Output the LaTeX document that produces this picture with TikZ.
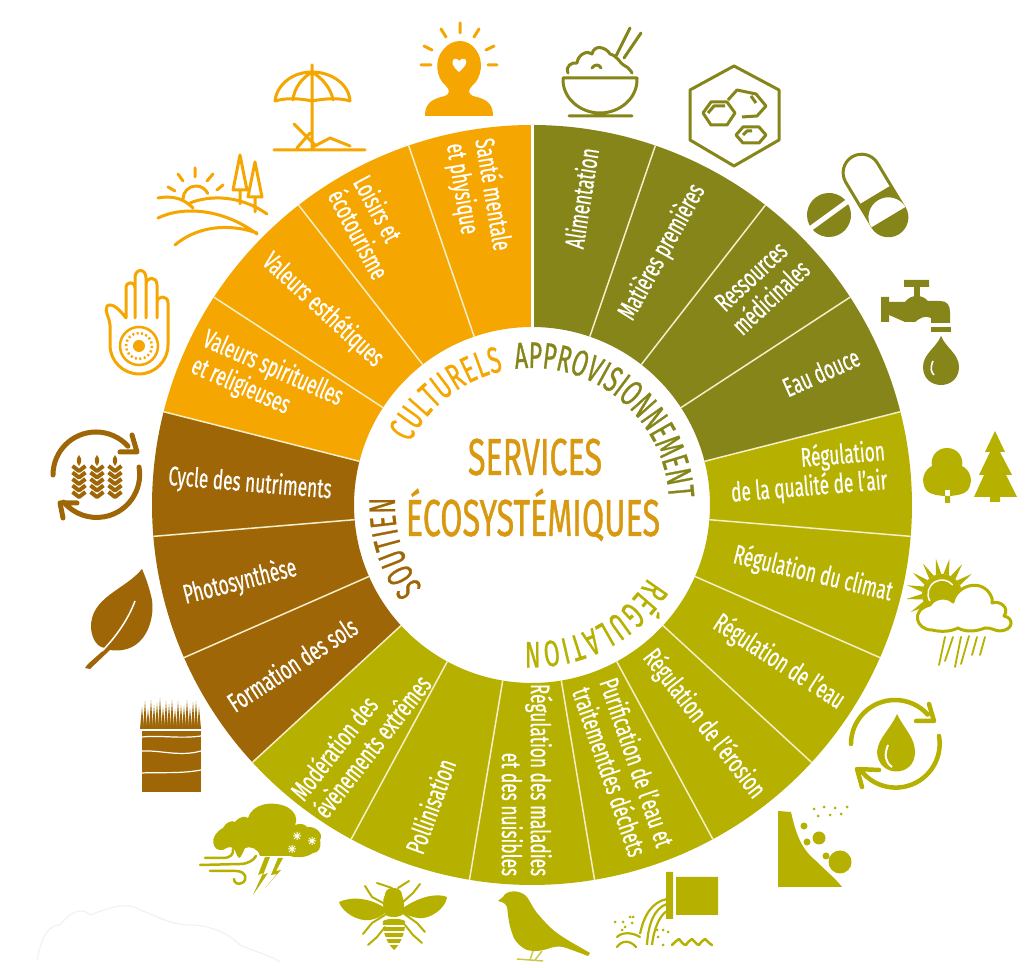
\documentclass[tikz,border=0pt]{standalone}
\usepackage{fontspec}
\usetikzlibrary{decorations.text}
\newfontfamily\lab[FakeStretch=0.64,FakeBold=0.6]{Fira Sans}
\newfontfamily\ttl[FakeStretch=0.62,FakeBold=0.7]{Fira Sans}
\definecolor{cOr}{HTML}{F6A600}
\definecolor{cOl}{HTML}{85851A}
\definecolor{cYe}{HTML}{B6B100}
\definecolor{cBr}{HTML}{9E6606}
\definecolor{cTi}{HTML}{D8980F}
\definecolor{cDiv}{HTML}{F4EFC8}
\tikzset{
  seclabel/.style={text=white,inner sep=0pt,font=\lab\fontsize{27}{29}\selectfont},
  ic/.style={line width=3pt,line cap=round,line join=round},
  ringt/.style={decoration={text along path,text align={fit to path},text={#1}},postaction={decorate}}
}
\begin{document}
\begin{tikzpicture}[x=1pt,y=1pt]
\useasboundingbox (0,0) rectangle (1028,968);
\fill[white] (0,0) rectangle (1028,968);
% ---------- wheel
\begin{scope}[shift={(532,463)}]
 \pgfmathsetmacro{\st}{360/19}
 \foreach \k/\c in {0/cOl,1/cOl,2/cOl,3/cOl,4/cYe,5/cYe,6/cYe,7/cYe,8/cYe,9/cYe,10/cYe,11/cYe,12/cBr,13/cBr,14/cBr,15/cOr,16/cOr,17/cOr,18/cOr}{
  \pgfmathsetmacro{\a}{90-\k*\st}
  \pgfmathsetmacro{\b}{\a-\st}
  \fill[\c] (\a:178pt) -- (\a:380pt) arc[start angle=\a,end angle=\b,radius=380pt] -- (\b:178pt) arc[start angle=\b,end angle=\a,radius=178pt] -- cycle;
 }
 \foreach \k in {1,...,18}{
  \pgfmathsetmacro{\a}{90-\k*\st}
  \draw[cDiv,line width=1.5pt] (\a:178pt) -- (\a:380pt);
 }
 \draw[white,line width=3pt] (90:178pt) -- (90:380pt);
 % ring titles
 \path[ringt={|\ttl\fontsize{37}{37}\selectfont\color{cOl}|APPROVISIONNEMENT}] (97:137pt) arc[start angle=97,end angle=3,radius=137pt];
 \path[ringt={|\ttl\fontsize{37}{37}\selectfont\color{cOr}|CULTURELS}] (153:137pt) arc[start angle=153,end angle=102,radius=137pt];
 \path[ringt={|\ttl\fontsize{37}{37}\selectfont\color{cBr}|SOUTIEN}] (217:137pt) arc[start angle=217,end angle=177,radius=137pt];
 \path[ringt={|\ttl\fontsize{37}{37}\selectfont\color{cYe}|RÉGULATION}] (-32:137pt) arc[start angle=-32,end angle=-93,radius=137pt];
\end{scope}
% ---------- titles and labels (pixel positions: x, 968-y)
\node[text=cTi,inner sep=0pt,anchor=base,font=\ttl\fontsize{52}{52}\selectfont] (t1) at (535,968-475) {SERVICES};
\node[text=cTi,inner sep=0pt,anchor=base,font=\ttl\fontsize{52}{52}\selectfont] (t2) at (533,968-536) {ÉCOSYSTÉMIQUES};
\node[seclabel,rotate=81] (s0) at (581,968-198) {Alimentation};
\node[seclabel,rotate=61] (s1) at (662,968-252) {Matières premières};
\node[seclabel,rotate=43,align=center] (s2) at (761,968-287) {Ressources\\médicinales};
\node[seclabel,rotate=24] (s3) at (821,968-372) {Eau douce};
\node[seclabel,rotate=4.7,align=right] (s4) at (808,968-473) {Régulation\\de la qualité de l’air};
\node[seclabel,rotate=-13.5] (s5) at (813,968-574) {Régulation du climat};
\node[seclabel,rotate=-33] (s6) at (779,968-662) {Régulation de l’eau};
\node[seclabel,rotate=-52] (s7) at (704,968-724) {Régulation de l’érosion};
\node[seclabel,rotate=-71,align=left] (s8) at (624,968-767) {Purification de l’eau et\\traitementdes déchets};
\node[seclabel,rotate=-90,align=right] (s9) at (527,968-780) {Régulation des maladies\\et des nuisibles};
\node[seclabel,rotate=70] (s10) at (430,968-806) {Pollinisation};
\node[seclabel,rotate=52,align=left] (s11) at (360,968-737) {Modération des\\évènements extrêmes};
\node[seclabel,rotate=33] (s12) at (292,968-664) {Formation des sols};
\node[seclabel,rotate=14.2] (s13) at (240,968-582) {Photosynthèse};
\node[seclabel,rotate=-4.7] (s14) at (250,968-484) {Cycle des nutriments};
\node[seclabel,rotate=-23.7,align=left] (s15) at (267,968-382) {Valeurs spirituelles\\et religieuses};
\node[seclabel,rotate=-42.6] (s16) at (323,968-310) {Valeurs esthétiques};
\node[seclabel,rotate=-61.6,align=left] (s17) at (372,968-227) {Loisirs et\\écotourisme};
\node[seclabel,rotate=-80.5,align=left] (s18) at (478,968-197) {Santé mentale\\et physique};
% ---------- icons in pixel coordinates
\begin{scope}[shift={(0,968)},yscale=-1]
% head
\fill[cOr] (425,116) .. controls (425,103) and (432,99) .. (445,96) .. controls (450,94) and (450,90) .. (446,86) .. controls (436,78) and (434,60) .. (443,50) .. controls (452,38) and (468,38) .. (476,50) .. controls (484,60) and (482,78) .. (472,86) .. controls (468,90) and (468,94) .. (473,96) .. controls (486,99) and (493,103) .. (493,116) -- cycle;
\fill[white] (459,72) .. controls (452,66) and (451,62) .. (454,59) .. controls (456,58) and (458,59) .. (459,61) .. controls (460,59) and (463,58) .. (465,59) .. controls (468,62) and (466,66) .. (459,72) -- cycle;
\draw[cOr,ic] (460,23)--(460,33) (441,29)--(446,37) (479,29)--(474,37) (424,46)--(432,50) (494,46)--(486,50) (421,65)--(431,65) (488,65)--(497,65);
% umbrella
\draw[cOr,ic] (312,65)--(312,148) (275,101) .. controls (277,84) and (293,72) .. (312,72) .. controls (331,72) and (349,84) .. (350,101) .. controls (340,98) and (328,98) .. (312,101) .. controls (298,98) and (285,98) .. (275,101) -- cycle (293,100) .. controls (294,88) and (302,78) .. (312,72) .. controls (322,78) and (331,88) .. (333,100) (274,150)--(365,150) (294,124)--(315,145) (297,148)--(310,133) (313,147)--(330,138)--(350,146);
% landscape
\draw[cOr,ic] (183,199) arc[start angle=180,end angle=335,radius=13pt] (195,168)--(195,177) (178,174)--(183,181) (213,174)--(207,181) (168,187)--(175,191) (223,185)--(217,190) (158,198) .. controls (175,195) and (185,200) .. (193,208) (190,203) .. controls (210,195) and (240,195) .. (267,214) (158,218) .. controls (185,205) and (225,210) .. (257,234) (175,245) .. controls (195,228) and (225,222) .. (257,233) (240,155)--(233,190)--(247,190)--cycle (240,190)--(240,204) (255,162)--(248,197)--(262,197)--cycle (255,197)--(255,212);
% hand
\draw[cOr,ic] (126,318) -- (126,288) .. controls (126,281) and (135,281) .. (135,288) -- (135,278) .. controls (135,268) and (146,268) .. (146,278) -- (146,285) .. controls (146,276) and (157,276) .. (157,285) -- (157,303) .. controls (157,295) and (168,295) .. (168,303) -- (168,345) arc[start angle=0,end angle=180,x radius=29pt,y radius=29pt] -- (110,325) .. controls (110,318) and (104,312) .. (107,306) .. controls (112,302) and (120,310) .. (126,318) (135,285)--(135,318) (146,280)--(146,318) (157,300)--(157,318);
\draw[cOr,line width=2.5pt] (139,346) circle[radius=19pt];
\draw[cOr,line width=2.5pt,dash pattern=on 2pt off 2.5pt] (139,346) circle[radius=13pt];
\fill[cOr] (139,346) circle[radius=6pt];
% wheat cycle
\draw[cBr,line width=5pt,line cap=round,line join=round] (53,475) arc[start angle=180,end angle=318,radius=43pt] (132,435) -- (137,452) -- (120,452);
\draw[cBr,line width=5pt,line cap=round,line join=round] (139,467) arc[start angle=-10,end angle=140,radius=43pt] (77,503) -- (60,503) -- (63,518);
\foreach \x in {79,97,115}{
 \fill[cBr] (\x,455) .. controls (\x+3,459) and (\x+3,462) .. (\x,466) .. controls (\x-3,462) and (\x-3,459) .. (\x,455) -- cycle;
 \foreach \y in {466,472.5,479,485.5,492}{\draw[cBr,line width=4pt,line join=round] (\x-6.5,\y)--(\x,\y+5)--(\x+6.5,\y);}
}
% leaf
\fill[cBr] (142,569) .. controls (125,590) and (90,597) .. (91,628) .. controls (92,640) and (98,648) .. (106,648) -- (88,664) -- (85,668) -- (90,669) -- (110,650) .. controls (145,655) and (155,620) .. (152,600) .. controls (150,590) and (146,578) .. (142,569) -- cycle;
\draw[white,line width=1.5pt] (135,601) .. controls (128,620) and (115,638) .. (102,651);
% soil
\fill[cBr] (142,731) rectangle (201,792);
\foreach \x/\h in {142/24,145/30,148/22,151/31,154/26,157/28,160/33,163/24,166/30,169/27,172/31,175/22,178/30,181/26,184/25,187/31,190/23,193/29,196/30,199/24}{
 \fill[cBr] (\x-2,729) -- (\x,731-\h) -- (\x+2,729) -- cycle;
}
\draw[white,line width=1.2pt] (142,737) .. controls (160,735) and (180,739) .. (201,736) (142,751) .. controls (160,750) and (180,757) .. (201,751) (142,773) .. controls (160,772) and (180,774) .. (201,770);
% storm
\fill[cYe] (223,850) .. controls (212,852) and (208,836) .. (223,828) .. controls (226,822) and (232,820) .. (235,822) .. controls (240,816) and (245,816) .. (248,818) .. controls (252,804) and (272,800) .. (287,807) .. controls (296,812) and (298,820) .. (295,825) .. controls (300,823) and (305,824) .. (307,827) .. controls (316,826) and (324,834) .. (320,840) .. controls (322,848) and (318,853) .. (313,853) .. controls (306,858) and (296,858) .. (290,856) -- (260,856) .. controls (258,848) and (250,846) .. (245,848) .. controls (243,852) and (241,858) .. (239,858) .. controls (236,856) and (236,850) .. (233,848) .. controls (230,846) and (226,848) .. (223,850) -- cycle;
\draw[white,line width=1pt] (293,836)--(301,836) (297,832)--(297,840) (308,841)--(316,841) (312,837)--(312,845) (288,849)--(296,849) (292,845)--(292,853) (294,833)--(300,839) (300,833)--(294,839) (309,838)--(315,844) (315,838)--(309,844) (289,846)--(295,852) (295,846)--(289,852);
\draw[cYe,line width=2.5pt,line cap=round] (200,865)--(240,864) .. controls (248,864) and (254,860) .. (256,856) (205,858)--(224,858) .. controls (230,858) and (234,854) .. (233,849) (210,871)--(236,871) .. controls (246,871) and (248,880) .. (242,883) .. controls (238,885) and (234,883) .. (234,879);
\fill[cYe] (265,857)--(258,875)--(263,873)--(253,895)--(268,873)--(263,875)--(270,857)--cycle (278,858)--(271,875)--(277,874)--(265,888)--(281,870)--(276,871)--(283,858)--cycle;
% bee
\fill[cYe] (385,908) .. controls (370,898) and (352,896) .. (339,902) .. controls (342,912) and (358,922) .. (370,920) .. controls (376,919) and (382,916) .. (385,913) -- cycle (403,908) .. controls (420,896) and (438,893) .. (447,897) .. controls (446,908) and (430,920) .. (418,918) .. controls (412,917) and (406,915) .. (403,913) -- cycle;
\fill[cYe] (393,888) .. controls (386,888) and (385,893) .. (385,895) .. controls (382,900) and (383,910) .. (385,914) .. controls (387,918) and (400,918) .. (403,914) .. controls (405,908) and (404,900) .. (402,895) .. controls (402,892) and (400,888) .. (393,888) -- cycle;
\fill[cYe] (383,921) .. controls (388,918) and (400,918) .. (405,921) .. controls (406,932) and (400,945) .. (394,950) .. controls (388,945) and (382,932) .. (383,921) -- cycle;
\foreach \y in {926,932,938,944}{\draw[white,line width=1.3pt] (380,\y)--(408,\y);}
\draw[cYe,line width=2pt,line cap=round,line join=round] (392,888)--(377,883) (398,888)--(409,881) (385,904)--(372,897)--(365,886) (403,902)--(413,893)--(420,884) (385,915)--(372,923)--(363,934) (403,913)--(417,923)--(425,932) (385,927)--(377,937)--(368,945) (405,925)--(413,935)--(422,943);
% bird
\fill[cYe] (498,901) -- (503,897) .. controls (506,890) and (520,889) .. (527,897) .. controls (531,903) and (533,908) .. (537,913) .. controls (543,920) and (550,928) .. (557,933) .. controls (568,941) and (580,947) .. (590,953) -- (588,956) .. controls (580,953) and (570,949) .. (563,947) .. controls (558,946) and (554,947) .. (550,948) .. controls (542,951) and (534,952) .. (527,950) .. controls (518,946) and (513,938) .. (512,933) .. controls (508,922) and (508,912) .. (507,907) .. controls (506,904) and (503,902) .. (498,901) -- cycle;
\draw[cYe!70,line width=1.5pt] (533,951)--(530,960) (542,951)--(535,960) (517,959)--(543,961);
% outlet
\fill[cYe] (676,877) rectangle (718,915) (666,872) rectangle (673,919);
\draw[cYe,line width=2.2pt] (667,899) .. controls (652,902) and (644,915) .. (640,934) (667,904) .. controls (654,908) and (648,925) .. (647,945) (667,911) .. controls (660,915) and (654,928) .. (652,945);
\draw[cYe,line width=2.2pt,line cap=round] (617,937) .. controls (622,932) and (632,932) .. (640,937) (617,947) .. controls (622,940) and (630,940) .. (636,947);
\draw[cYe,line width=2.5pt,line cap=round,line join=round] (672,945) .. controls (675,942) and (677,940) .. (679,939) .. controls (681,941) and (683,945) .. (686,945) .. controls (688,942) and (690,940) .. (692,939) .. controls (694,941) and (697,945) .. (699,945) .. controls (701,942) and (703,940) .. (705,939) .. controls (707,941) and (710,944) .. (712,945);
\foreach \p in {(615,922),(623,922),(630,917),(633,917),(625,927),(632,923),(622,930),(657,930),(663,930),(668,932),(658,937),(663,945)}{\fill[cYe] \p circle[radius=1.5pt];}
% erosion
\fill[cYe] (778,811) -- (791,812) .. controls (795,830) and (800,848) .. (815,860) .. controls (825,870) and (835,878) .. (842,887) -- (778,887) -- cycle;
\fill[cYe] (819,838) circle[radius=6.5pt] (840,862) circle[radius=11.5pt] (804,826) circle[radius=3.5pt] (807,842) circle[radius=3.5pt] (826,856) circle[radius=3.5pt];
\foreach \p in {(814,809),(824,807),(835,808),(847,807),(818,816),(830,815),(841,814)}{\fill[cYe] \p circle[radius=1.5pt];}
% water cycle
\draw[cYe,line width=4.5pt,line cap=round,line join=round] (851,744) arc[start angle=180,end angle=318,radius=44pt] (929,704) -- (934,721) -- (916,721);
\draw[cYe,line width=4.5pt,line cap=round,line join=round] (939,736) arc[start angle=-10,end angle=140,radius=44pt] (879,770) -- (857,769) -- (862,787);
\fill[cYe] (897,714) .. controls (905,730) and (915,738) .. (915,752) .. controls (915,778) and (878,778) .. (877,752) .. controls (878,738) and (890,730) .. (897,714) -- cycle;
\draw[white,line width=2pt] (888,745) .. controls (884,755) and (885,762) .. (892,767);
% sun cloud
\begin{scope}[shift={(942,594)}]
 \foreach \a in {150,172,194,216,238,260,282,304,326}{\fill[cYe] (\a-8:20pt) -- (\a:36pt) -- (\a+8:20pt) -- cycle;}
 \fill[cYe] (0,0) circle[radius=20pt];
 \draw[white,line width=1.5pt] (150:14pt) arc[start angle=150,end angle=320,radius=14pt];
\end{scope}
\draw[cYe,line width=3pt,fill=white,line join=round] (932,630) .. controls (916,630) and (910,610) .. (930,605) .. controls (934,597) and (948,596) .. (953,602) .. controls (956,586) and (980,578) .. (990,594) .. controls (992,598) and (993,600) .. (992,603) .. controls (1000,600) and (1010,608) .. (1004,616) .. controls (1014,618) and (1014,630) .. (1000,631) .. controls (995,631) and (990,627) .. (985,628) .. controls (975,632) and (965,632) .. (958,628) .. controls (950,632) and (940,632) .. (932,630) -- cycle;
\draw[cYe,line width=1.8pt,line cap=round] (945,637)--(939,665) (953,637)--(945,661) (961,637)--(955,667) (969,636)--(961,664) (977,637)--(972,655) (985,637)--(980,655);
% trees
\fill[cYe] (947,448) .. controls (958,448) and (964,458) .. (962,466) .. controls (970,470) and (974,480) .. (968,490) .. controls (962,498) and (932,498) .. (926,490) .. controls (920,480) and (924,470) .. (932,466) .. controls (930,458) and (936,448) .. (947,448) -- cycle (945,490) rectangle (950,503);
\fill[cYe] (995,431) -- (1005,452) -- (1000,452) -- (1012,475) -- (1006,475) -- (1017,497) -- (1000,497) -- (1000,502) -- (990,502) -- (990,497) -- (974,497) -- (984,475) -- (979,475) -- (990,452) -- (985,452) -- cycle;
% tap
\fill[cOl] (881,297) rectangle (889,322) (904,280) rectangle (929,287);
\fill[cOl] (914,285) rectangle (920,297);
\fill[cOl] (889,302) -- (905,302) .. controls (908,298) and (912,296) .. (917,296) .. controls (922,296) and (925,298) .. (928,301) -- (940,301) .. controls (947,301) and (950,305) .. (950,312) -- (950,323) -- (931,323) -- (931,318) .. controls (925,315) and (920,318) .. (915,322) -- (905,322) -- (889,315) -- cycle;
\fill[cOl] (931,327) rectangle (951,332);
\fill[cOl] (941,336) .. controls (946,348) and (959,354) .. (959,367) .. controls (959,391) and (923,391) .. (923,367) .. controls (923,354) and (936,348) .. (941,336) -- cycle;
\draw[white,line width=1.6pt] (933,361) .. controls (930,368) and (931,372) .. (934,375);
% pills
\begin{scope}[shift={(875,195)},rotate=-31]
 \fill[cOl] (-20,0) rectangle (20,26) (0,26) circle[radius=20pt];
 \draw[cOl,line width=3pt] (-18.5,0) -- (-18.5,-26) arc[start angle=180,end angle=360,radius=18.5pt] -- (18.5,0);
\end{scope}
\begin{scope}[shift={(829,215)},rotate=-36]
 \fill[cOl] (0,0) circle[radius=22pt];
 \fill[white] (-24,-2.5) rectangle (24,2.5);
\end{scope}
% hexagon
\draw[cOl,ic] (734,66)--(779,90)--(779,140)--(734,166)--(690,140)--(690,90)--cycle;
\draw[cOl,line width=3pt,line join=round] (703,113)--(711,102)--(727,102)--(735,113)--(727,125)--(711,125)--cycle (708,113)--(714,106)--(725,106) (728,100)--(737,90)--(756,94)--(766,106)--(757,116)--(742,117) (751,96)--(756,103);
\draw[cOl,line width=3pt,line join=round] (736,135)--(743,127)--(759,127)--(766,135)--(759,143)--(743,143)--cycle (743,135)--(747,131)--(752,131);
% bowl
\draw[cOl,ic] (563,78)--(637,78) (563,78) .. controls (562,98) and (580,113) .. (600,113) .. controls (620,113) and (638,98) .. (637,78) (569,116)--(632,116) (568,73) .. controls (565,66) and (572,62) .. (577,63) .. controls (578,54) and (588,50) .. (592,54) .. controls (594,44) and (606,47) .. (610,54) .. controls (618,56) and (620,64) .. (625,66) .. controls (628,67) and (631,71) .. (632,73) (592,68) .. controls (595,64) and (599,64) .. (601,68) (616,56)--(630,28) (624,58)--(641,33);
% faint cloud
\draw[black!6,line width=1pt] (37,960) .. controls (40,945) and (45,925) .. (60,925) .. controls (68,915) and (80,905) .. (90,915) .. controls (105,910) and (125,900) .. (140,910) .. controls (155,915) and (170,925) .. (190,925) .. controls (205,925) and (225,930) .. (240,945) .. controls (250,950) and (270,955) .. (280,962);
\end{scope}
\end{tikzpicture}
\end{document}
